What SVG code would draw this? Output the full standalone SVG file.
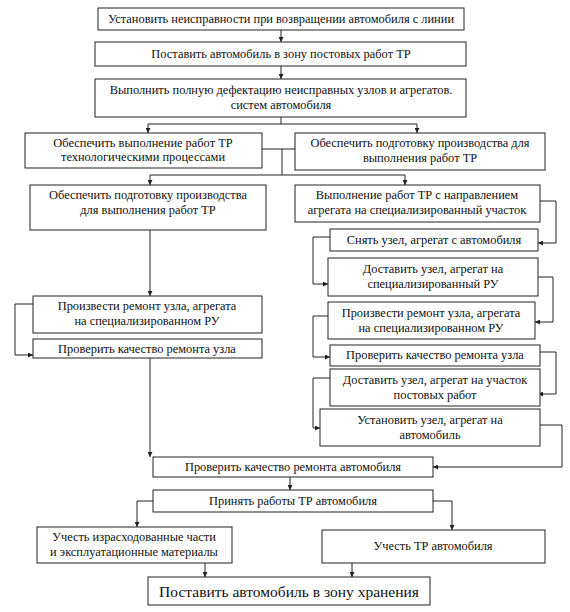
<svg xmlns="http://www.w3.org/2000/svg" width="570" height="612" viewBox="0 0 570 612">
<style>
.b{fill:#fff;stroke:#222;stroke-width:1}
text{font-family:"Liberation Serif","Times New Roman","DejaVu Serif",serif;font-size:12.4px;fill:#111;text-anchor:middle}
.c{fill:none;stroke:#222;stroke-width:1}
</style>
<defs>
<marker id="a" viewBox="0 0 6 6" refX="6" refY="3" markerWidth="5" markerHeight="5" orient="auto"><path d="M0,0L6,3L0,6z" fill="#222"/></marker>
</defs>
<rect width="570" height="612" fill="#fff"/>
<g id="connectors">
<path class="c" d="M281,30V42" marker-end="url(#a)"/>
<path class="c" d="M281,66V79" marker-end="url(#a)"/>
<path class="c" d="M281,117V124"/>
<path class="c" d="M148,124H417"/>
<path class="c" d="M148,124V133" marker-end="url(#a)"/>
<path class="c" d="M417,124V133" marker-end="url(#a)"/>
<path class="c" d="M262,149H282V175M295,149H282"/>
<path class="c" d="M150,175H405"/>
<path class="c" d="M150,175V185" marker-end="url(#a)"/>
<path class="c" d="M405,175V185" marker-end="url(#a)"/>
<path class="c" d="M150,230V296" marker-end="url(#a)"/>
<path class="c" d="M33,304H15V355H33" marker-end="url(#a)"/>
<path class="c" d="M150,358V457" marker-end="url(#a)"/>
<path class="c" d="M540,201H556V243H538" marker-end="url(#a)"/>
<path class="c" d="M330,237H313V284H328" marker-end="url(#a)"/>
<path class="c" d="M538,277H553V322H535" marker-end="url(#a)"/>
<path class="c" d="M328,316H313V357H330" marker-end="url(#a)"/>
<path class="c" d="M540,352H556V394H538" marker-end="url(#a)"/>
<path class="c" d="M330,378H313V428H320" marker-end="url(#a)"/>
<path class="c" d="M540,425H562V467H433" marker-end="url(#a)"/>
<path class="c" d="M290,477V490" marker-end="url(#a)"/>
<path class="c" d="M153,501H137V527" marker-end="url(#a)"/>
<path class="c" d="M433,501H452V530" marker-end="url(#a)"/>
<path class="c" d="M205,563V577" marker-end="url(#a)"/>
<path class="c" d="M352,563V577" marker-end="url(#a)"/>
</g>
<g id="n1"><rect class="b" x="98" y="8" width="366" height="22"/><text x="281" y="23">Установить неисправности при возвращении автомобиля с линии</text></g>
<g id="n2"><rect class="b" x="95" y="42" width="371" height="24"/><text x="281" y="58">Поставить автомобиль в зону постовых работ ТР</text></g>
<g id="n3"><rect class="b" x="95" y="79" width="371" height="38"/><text x="281" y="94">Выполнить полную дефектацию неисправных узлов и агрегатов.</text><text x="281" y="109">систем автомобиля</text></g>
<g id="n4"><rect class="b" x="25" y="133" width="237" height="35"/><text x="143" y="147">Обеспечить выполнение работ ТР</text><text x="143" y="161">технологическими процессами</text></g>
<g id="n5"><rect class="b" x="295" y="133" width="250" height="37"/><text x="420" y="147">Обеспечить подготовку производства для</text><text x="420" y="162">выполнения работ ТР</text></g>
<g id="n6"><rect class="b" x="30" y="185" width="236" height="45"/><text x="148" y="199">Обеспечить подготовку производства</text><text x="148" y="214">для выполнения работ ТР</text></g>
<g id="n7"><rect class="b" x="295" y="185" width="245" height="37"/><text x="417" y="199">Выполнение работ ТР с направлением</text><text x="417" y="214">агрегата на специализированный участок</text></g>
<g id="n8"><rect class="b" x="33" y="296" width="229" height="37"/><text x="147" y="310">Произвести ремонт узла, агрегата</text><text x="147" y="325">на специализированном РУ</text></g>
<g id="n9"><rect class="b" x="33" y="339" width="229" height="19"/><text x="147" y="353">Проверить качество ремонта узла</text></g>
<g id="n10"><rect class="b" x="330" y="229" width="208" height="22"/><text x="434" y="244">Снять узел, агрегат с автомобиля</text></g>
<g id="n11"><rect class="b" x="328" y="258" width="210" height="38"/><text x="433" y="273">Доставить узел, агрегат на</text><text x="433" y="288">специализированный РУ</text></g>
<g id="n12"><rect class="b" x="328" y="302" width="207" height="37"/><text x="431" y="317">Произвести ремонт узла, агрегата</text><text x="431" y="332">на специализированном РУ</text></g>
<g id="n13"><rect class="b" x="330" y="345" width="210" height="21"/><text x="435" y="359">Проверить качество ремонта узла</text></g>
<g id="n14"><rect class="b" x="330" y="369" width="210" height="37"/><text x="435" y="384">Доставить узел, агрегат на участок</text><text x="435" y="399">постовых работ</text></g>
<g id="n15"><rect class="b" x="320" y="409" width="220" height="37"/><text x="430" y="424">Установить узел, агрегат на</text><text x="430" y="439">автомобиль</text></g>
<g id="n16"><rect class="b" x="153" y="457" width="280" height="20"/><text x="293" y="471">Проверить качество ремонта автомобиля</text></g>
<g id="n17"><rect class="b" x="153" y="490" width="280" height="22"/><text x="293" y="505">Принять работы ТР автомобиля</text></g>
<g id="n18"><rect class="b" x="37" y="527" width="195" height="36"/><text x="134" y="541">Учесть израсходованные части</text><text x="134" y="556">и эксплуатационные материалы</text></g>
<g id="n19"><rect class="b" x="322" y="530" width="223" height="33"/><text x="433" y="550">Учесть ТР автомобиля</text></g>
<g id="n20"><rect class="b" x="148" y="577" width="282" height="28"/><text x="289" y="597" style="font-size:15.5px">Поставить автомобиль в зону хранения</text></g>
</svg>
